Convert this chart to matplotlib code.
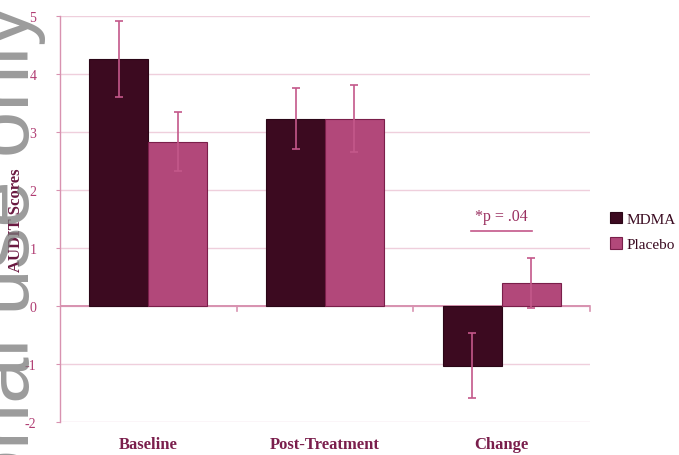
import matplotlib.pyplot as plt
import matplotlib.transforms as mtransforms
import numpy as np

categories = ["Baseline", "Post-Treatment", "Change"]
mdma_mean = [4.26, 3.23, -1.03]
mdma_err = [0.66, 0.53, 0.56]
placebo_mean = [2.83, 3.23, 0.40]
placebo_err = [0.51, 0.58, 0.43]
series_names = ["MDMA", "Placebo"]
p_label = "*p = .04"

plt.rcParams["font.family"] = ["Liberation Serif", "DejaVu Serif"]
plt.rcParams["axes.unicode_minus"] = False

MDMA_COLOR = "#3c0a20"
PLACEBO_COLOR = "#b2487a"
GRID_COLOR = "#efcfdc"
AXIS_COLOR = "#d892b0"
ERR_COLOR = "#c4588a"
TICK_COLOR = "#b03c72"
LABEL_COLOR = "#7a1e4c"

fig = plt.figure(figsize=(6.79, 4.56), dpi=100, facecolor="white")
ax = fig.add_axes([60 / 679, 1 - 423 / 456, 530 / 679, 406 / 456])

x = np.arange(len(categories))
width = 1 / 3

ax.bar(x - width / 2, mdma_mean, width, color=MDMA_COLOR, edgecolor="#2a0616",
       linewidth=0.8, label=series_names[0], zorder=3)
ax.bar(x + width / 2, placebo_mean, width, color=PLACEBO_COLOR, edgecolor="#7a1f4a",
       linewidth=0.8, label=series_names[1], zorder=3)
ax.errorbar(x - width / 2, mdma_mean, yerr=mdma_err, fmt="none", ecolor=ERR_COLOR,
            elinewidth=1.2, capsize=3, capthick=1.2, zorder=4)
ax.errorbar(x + width / 2, placebo_mean, yerr=placebo_err, fmt="none", ecolor=ERR_COLOR,
            elinewidth=1.2, capsize=3, capthick=1.2, zorder=4)

ax.set_xlim(-0.5, len(categories) - 0.5)
ax.set_ylim(-2, 5)
ax.set_yticks(np.arange(-2, 6))
ax.yaxis.grid(True, color=GRID_COLOR, linewidth=1.0, zorder=0)
ax.set_axisbelow(True)
ax.axhline(0, color=AXIS_COLOR, linewidth=1.4, zorder=2)

for side in ("top", "right", "bottom"):
    ax.spines[side].set_visible(False)
ax.spines["left"].set_color(AXIS_COLOR)
ax.spines["left"].set_linewidth(1.0)
ax.tick_params(axis="y", colors=AXIS_COLOR, labelcolor=TICK_COLOR, length=3,
               labelsize=10, pad=14)

# category boundary ticks on the zero line, labels below the plot
ax.set_xticks([])
for b in np.arange(0.5, len(categories), 1.0):
    ax.plot([b, b], [0, -0.09], color=AXIS_COLOR, linewidth=1.2,
            clip_on=False, zorder=2)
lab_trans = mtransforms.blended_transform_factory(ax.transData, ax.transAxes)
for xi, name in zip(x, categories):
    ax.text(xi, -0.055, name, transform=lab_trans, ha="center", va="center",
            fontsize=12, fontweight="bold", color=LABEL_COLOR)

ax.set_ylabel("AUDIT Scores", fontsize=12, fontweight="bold", color="#6a1840")
ax.yaxis.set_label_coords(-0.068, 0.5)

# significance note over the Change group
ax.text(x[-1], 1.56, p_label, ha="center", va="center", fontsize=11.5, color="#9a3060")
ax.plot([x[-1] - width * 0.52, x[-1] + width * 0.52], [1.3, 1.3], color=ERR_COLOR,
        linewidth=1.2, zorder=4)

leg = fig.legend(loc="upper left", bbox_to_anchor=(604 / 679, 1 - 207 / 456),
                 frameon=False, fontsize=11, handlelength=0.75, handleheight=0.75,
                 handletextpad=0.3, labelspacing=0.75, borderaxespad=0)
for t in leg.get_texts():
    t.set_color("#3a0a20")

# watermark
fig.text(29 / 679, 0.99, "Personal use only", rotation=90, rotation_mode="anchor",
         ha="right", va="baseline", fontsize=60, color="#7a7a7a", alpha=0.75,
         family=["Liberation Sans", "DejaVu Sans"], zorder=0)

fig.savefig("out.png", dpi=100, facecolor="white")
